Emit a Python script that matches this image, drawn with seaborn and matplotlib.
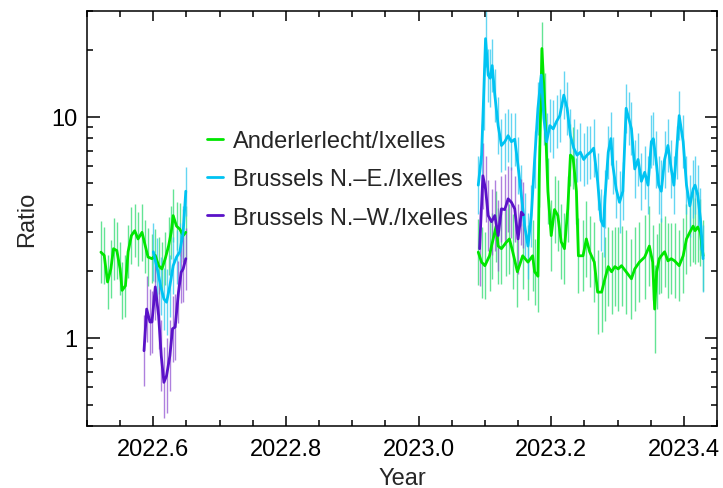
import matplotlib
matplotlib.use("Agg")
import matplotlib.pyplot as plt
from matplotlib.ticker import MultipleLocator, FuncFormatter, LogLocator, NullFormatter
import numpy as np
import pandas as pd
import seaborn as sns

# ---- data (year, ratio, error half-width in dex) ----
green_year_a = [2022.521, 2022.526, 2022.531, 2022.536, 2022.540, 2022.545, 2022.550,
                2022.553, 2022.558, 2022.562, 2022.567, 2022.572, 2022.577, 2022.583,
                2022.588, 2022.592, 2022.598, 2022.603, 2022.608, 2022.613, 2022.618,
                2022.623, 2022.627, 2022.630, 2022.635, 2022.640, 2022.645, 2022.649]
green_ratio_a = [2.44, 2.36, 1.79, 2.05, 2.53, 2.48, 2.05, 1.64, 1.72, 2.45, 2.9, 3.05,
                 2.8, 3.0, 2.6, 2.32, 2.28, 2.36, 2.12, 2.05, 2.28, 2.6, 3.0, 3.57, 3.2,
                 3.1, 2.9, 3.0]
green_err_a = [0.14, 0.13, 0.12, 0.13, 0.14, 0.13, 0.12, 0.13, 0.14, 0.12, 0.13, 0.12,
               0.12, 0.13, 0.12, 0.13, 0.11, 0.12, 0.13, 0.12, 0.12, 0.13, 0.12, 0.12,
               0.11, 0.12, 0.12, 0.12]

green_year_b = [2023.090, 2023.095, 2023.100, 2023.107, 2023.110, 2023.117, 2023.120,
                2023.125, 2023.132, 2023.137, 2023.142, 2023.149, 2023.157, 2023.165,
                2023.172, 2023.175, 2023.180, 2023.182, 2023.186, 2023.190, 2023.195,
                2023.200, 2023.205, 2023.210, 2023.215, 2023.220, 2023.225, 2023.229,
                2023.233, 2023.238, 2023.241, 2023.248, 2023.253, 2023.258, 2023.265,
                2023.270, 2023.276, 2023.281, 2023.286, 2023.291, 2023.296, 2023.301,
                2023.306, 2023.313, 2023.321, 2023.326, 2023.333, 2023.341, 2023.348,
                2023.353, 2023.356, 2023.359, 2023.363, 2023.366, 2023.371, 2023.376,
                2023.381, 2023.386, 2023.393, 2023.399, 2023.404, 2023.409, 2023.414,
                2023.417, 2023.421, 2023.425, 2023.429]
green_ratio_b = [2.44, 2.2, 2.12, 2.35, 2.6, 3.2, 2.6, 2.53, 2.7, 2.8, 2.45, 1.99, 2.35,
                 2.2, 2.35, 1.99, 1.9, 5.4, 20.3, 11.7, 4.6, 2.9, 3.8, 3.57, 2.72, 2.53,
                 3.83, 6.7, 6.5, 4.6, 2.35, 2.35, 2.8, 2.45, 2.2, 1.61, 1.61, 1.85, 2.1,
                 1.99, 2.1, 2.05, 2.12, 1.99, 1.85, 2.05, 2.2, 2.32, 2.6, 2.2, 1.35, 1.99,
                 2.28, 2.35, 2.45, 2.23, 2.28, 2.23, 2.12, 2.35, 2.8, 3.0, 3.2, 3.05, 3.17,
                 3.0, 2.35]
green_err_b = [0.15, 0.16, 0.15, 0.16, 0.15, 0.16, 0.17, 0.16, 0.15, 0.16, 0.17, 0.16,
               0.15, 0.17, 0.16, 0.15, 0.16, 0.14, 0.12, 0.13, 0.15, 0.16, 0.15, 0.16,
               0.17, 0.16, 0.15, 0.14, 0.14, 0.15, 0.17, 0.16, 0.17, 0.16, 0.18, 0.19,
               0.18, 0.19, 0.18, 0.19, 0.18, 0.19, 0.18, 0.19, 0.18, 0.19, 0.18, 0.19,
               0.18, 0.17, 0.2, 0.17, 0.16, 0.17, 0.16, 0.17, 0.16, 0.17, 0.16, 0.17,
               0.16, 0.15, 0.16, 0.15, 0.16, 0.15, 0.16]

cyan_year_a = [2022.600, 2022.606, 2022.611, 2022.616, 2022.620, 2022.625, 2022.630,
               2022.635, 2022.640, 2022.645, 2022.649]
cyan_ratio_a = [2.45, 2.05, 1.72, 1.5, 1.45, 1.72, 2.12, 2.32, 2.45, 3.0, 4.6]
cyan_err_a = [0.13, 0.14, 0.13, 0.14, 0.15, 0.14, 0.13, 0.12, 0.13, 0.12, 0.11]

cyan_year_b = [2023.090, 2023.095, 2023.098, 2023.101, 2023.105, 2023.108, 2023.111,
               2023.115, 2023.120, 2023.125, 2023.130, 2023.135, 2023.140, 2023.145,
               2023.150, 2023.155, 2023.160, 2023.165, 2023.170, 2023.175, 2023.180,
               2023.185, 2023.189, 2023.193, 2023.198, 2023.203, 2023.208, 2023.213,
               2023.219, 2023.224, 2023.229, 2023.234, 2023.239, 2023.244, 2023.249,
               2023.254, 2023.259, 2023.264, 2023.270, 2023.275, 2023.279, 2023.281,
               2023.286, 2023.290, 2023.293, 2023.298, 2023.303, 2023.308, 2023.313,
               2023.317, 2023.321, 2023.326, 2023.331, 2023.336, 2023.341, 2023.346,
               2023.351, 2023.354, 2023.358, 2023.362, 2023.366, 2023.371, 2023.376,
               2023.381, 2023.385, 2023.389, 2023.393, 2023.399, 2023.404, 2023.409,
               2023.414, 2023.417, 2023.421, 2023.425, 2023.429]
cyan_ratio_b = [4.9, 6.7, 12.0, 22.5, 15.4, 14.9, 17.0, 12.5, 9.1, 7.4, 7.7, 8.2, 7.7,
                7.9, 6.0, 4.4, 3.2, 2.6, 3.57, 6.4, 10.9, 15.4, 9.8, 7.7, 9.1, 8.8, 9.5,
                10.1, 12.5, 10.9, 8.2, 7.2, 6.7, 6.9, 6.4, 6.7, 6.9, 7.2, 5.1, 3.4, 3.2,
                4.25, 6.9, 7.95, 6.0, 4.7, 4.1, 4.6, 10.9, 9.8, 8.8, 5.8, 6.4, 5.1, 5.6,
                4.9, 7.7, 7.95, 6.4, 4.9, 4.6, 6.4, 7.4, 5.8, 4.9, 6.9, 10.1, 7.7, 4.9,
                3.95, 4.7, 4.9, 4.4, 3.45, 2.28]
cyan_err_b = [0.13, 0.14, 0.14, 0.13, 0.12, 0.13, 0.12, 0.12, 0.13, 0.12, 0.13, 0.12,
              0.13, 0.12, 0.13, 0.14, 0.15, 0.15, 0.14, 0.13, 0.12, 0.12, 0.12, 0.13,
              0.12, 0.13, 0.12, 0.12, 0.11, 0.12, 0.12, 0.13, 0.12, 0.13, 0.12, 0.13,
              0.12, 0.13, 0.13, 0.14, 0.14, 0.13, 0.12, 0.12, 0.13, 0.13, 0.14, 0.13,
              0.11, 0.12, 0.12, 0.13, 0.12, 0.13, 0.12, 0.13, 0.12, 0.12, 0.13, 0.13,
              0.14, 0.13, 0.12, 0.13, 0.13, 0.12, 0.11, 0.12, 0.13, 0.14, 0.13, 0.13,
              0.14, 0.14, 0.15]

purple_year_a = [2022.586, 2022.590, 2022.595, 2022.598, 2022.603, 2022.608, 2022.612,
                 2022.616, 2022.620, 2022.625, 2022.629, 2022.633, 2022.638, 2022.642,
                 2022.645, 2022.649]
purple_ratio_a = [0.875, 1.35, 1.18, 1.18, 1.7, 1.26, 0.83, 0.63, 0.675, 0.83, 1.1,
                  1.12, 1.61, 1.98, 2.05, 2.28]
purple_err_a = [0.16, 0.15, 0.15, 0.14, 0.15, 0.15, 0.16, 0.16, 0.17, 0.16, 0.15, 0.15,
                0.14, 0.14, 0.15, 0.14]

purple_year_b = [2023.092, 2023.097, 2023.101, 2023.105, 2023.110, 2023.115, 2023.120,
                 2023.125, 2023.130, 2023.135, 2023.140, 2023.145, 2023.150, 2023.155,
                 2023.158]
purple_ratio_b = [2.53, 5.4, 4.7, 3.57, 3.35, 3.57, 2.9, 3.83, 3.8, 4.25, 4.1, 3.83, 2.8,
                  3.7, 3.6]
purple_err_b = [0.17, 0.15, 0.15, 0.16, 0.15, 0.16, 0.16, 0.15, 0.16, 0.15, 0.16, 0.15,
                0.16, 0.15, 0.15]

series_names = ["Anderlerlecht/Ixelles", "Brussels N.\u2013E./Ixelles",
                "Brussels N.\u2013W./Ixelles"]
line_colors = ["#00e600", "#00c3f2", "#5a12c8"]
bar_colors = ["#2fdc70", "#30c8ee", "#9356d4"]


def _frame(name, seg, years, ratios, errs):
    return pd.DataFrame({"year": years, "ratio": ratios, "err": errs,
                         "series": name, "segment": seg})


df = pd.concat([
    _frame(series_names[0], "a", green_year_a, green_ratio_a, green_err_a),
    _frame(series_names[0], "b", green_year_b, green_ratio_b, green_err_b),
    _frame(series_names[1], "a", cyan_year_a, cyan_ratio_a, cyan_err_a),
    _frame(series_names[1], "b", cyan_year_b, cyan_ratio_b, cyan_err_b),
    _frame(series_names[2], "a", purple_year_a, purple_ratio_a, purple_err_a),
    _frame(series_names[2], "b", purple_year_b, purple_ratio_b, purple_err_b),
], ignore_index=True)
df["lo"] = df["ratio"] / 10 ** df["err"]
df["hi"] = df["ratio"] * 10 ** df["err"]

sns.set_theme(style="ticks")
plt.rcParams["font.family"] = ["Liberation Sans", "DejaVu Sans"]

fig = plt.figure(figsize=(7.23, 4.89), dpi=100)
ax = fig.add_axes([0.1203, 0.1268, 0.8714, 0.8487])

# error bars first, lines on top
for name, bc in zip(series_names, bar_colors):
    g = df[df["series"] == name]
    ax.vlines(g["year"], g["lo"], g["hi"], colors=bc, linewidth=1.0, alpha=0.75, zorder=1)

sns.lineplot(data=df, x="year", y="ratio", hue="series", units="segment",
             estimator=None, hue_order=series_names,
             palette=dict(zip(series_names, line_colors)), linewidth=2.0, ax=ax)

ax.set_yscale("log")
ax.set_xlim(2022.50, 2023.45)
ax.set_ylim(0.4, 30)

ax.xaxis.set_major_locator(MultipleLocator(0.2))
ax.xaxis.set_minor_locator(MultipleLocator(0.05))
ax.xaxis.set_major_formatter(FuncFormatter(lambda v, p: f"{v:.1f}"))
ax.yaxis.set_major_locator(LogLocator(base=10))
ax.yaxis.set_minor_locator(LogLocator(base=10, subs=np.arange(2, 10)))
ax.yaxis.set_major_formatter(FuncFormatter(lambda v, p: f"{v:g}"))
ax.yaxis.set_minor_formatter(NullFormatter())

ax.tick_params(which="both", direction="in", top=True, right=True, width=1.1,
               colors="black", labelsize=17)
ax.tick_params(axis="x", which="major", length=7, pad=9)
ax.tick_params(axis="x", which="minor", length=4.5)
ax.tick_params(axis="y", which="major", length=9, pad=7)
ax.tick_params(axis="y", which="minor", length=4.5)
for s in ax.spines.values():
    s.set_linewidth(1.1)
    s.set_color("black")

ax.set_xlabel("Year", fontsize=17)
ax.set_ylabel("Ratio", fontsize=17)
ax.xaxis.set_label_coords(0.5, -0.098)
ax.yaxis.set_label_coords(-0.078, 0.5)

handles, labels = ax.get_legend_handles_labels()
ax.legend(handles, labels, loc="upper left", bbox_to_anchor=(0.19, 0.713),
          frameon=False, fontsize=17, handlelength=0.7, handletextpad=0.4,
          labelspacing=0.69, borderpad=0, borderaxespad=0)

fig.savefig("out.png", dpi=100)
